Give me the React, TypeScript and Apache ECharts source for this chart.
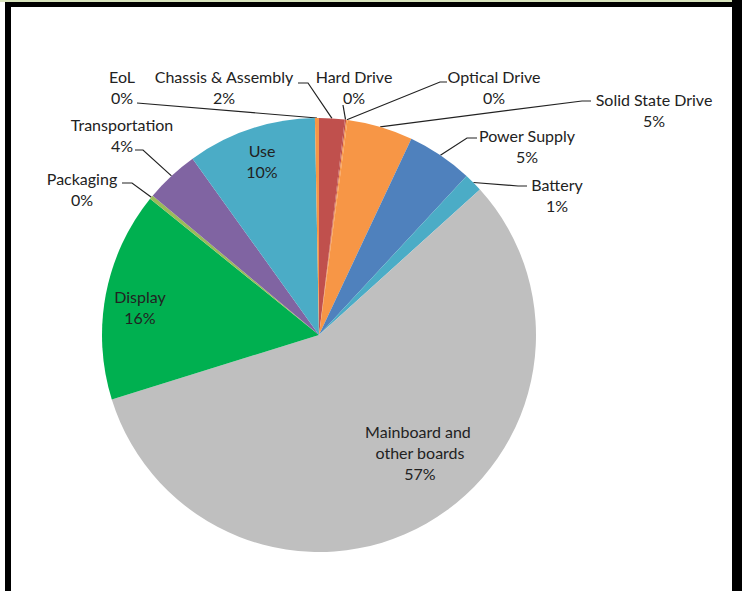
import React, { useEffect, useRef } from 'react';
import * as echarts from 'echarts';

const categories = [
  'Chassis & Assembly',
  'Hard Drive',
  'Optical Drive',
  'Solid State Drive',
  'Power Supply',
  'Battery',
  'Mainboard and other boards',
  'Display',
  'Packaging',
  'Transportation',
  'Use',
  'EoL',
];
const shares = [1.9, 0.1, 0.1, 4.9, 4.9, 1.4, 56.9, 15.6, 0.3, 4.0, 9.6, 0.3];
const colors = [
  '#C0504D', '#C0504D', '#F79646', '#F79646', '#4F81BD', '#4BACC6',
  '#BFBFBF', '#00B050', '#9BBB59', '#8064A2', '#4BACC6', '#F79646',
];
const insideLabels = ['Mainboard and other boards', 'Display', 'Use'];

// label block centres and leader knee/end points (layout, not data)
const labelCenters: [number, number][] = [
  [224, 87], [354, 87], [494, 87], [654, 110], [527, 146], [557, 195],
  [420, 452], [140, 307], [82, 189], [122, 135], [262, 161], [122, 87],
];
const leaderPoints: ([number, number][] | null)[] = [
  [[308, 83], [298, 83]],
  [[343, 105], [343, 105]],
  [[440, 82], [447, 82]],
  [[582, 101], [591, 101]],
  [[467, 138], [477, 138]],
  [[518, 186], [527, 186]],
  null,
  null,
  [[132, 183], [122, 183]],
  [[143, 150], [135, 150]],
  null,
  [[137, 103], [137, 103]],
];

const FONT = 'Lato, "Open Sans", sans-serif';

export default function App() {
  const ref = useRef<HTMLDivElement>(null);
  useEffect(() => {
    const chart = echarts.init(ref.current!, null, { renderer: 'svg' });
    chart.setOption({
      animation: false,
      backgroundColor: '#ffffff',
      graphic: [
        { type: 'rect', shape: { x: 0, y: 0, width: 732, height: 2 }, style: { fill: '#D8E4BC' } },
        { type: 'rect', shape: { x: 5, y: 2, width: 737, height: 5 }, style: { fill: '#000' } },
        { type: 'rect', shape: { x: 5, y: 2, width: 6, height: 589 }, style: { fill: '#000' } },
        { type: 'rect', shape: { x: 732, y: 0, width: 10, height: 591 }, style: { fill: '#000' } },
      ],
      series: [
        {
          type: 'pie',
          center: [319, 335],
          radius: 217,
          startAngle: 90,
          clockwise: true,
          avoidLabelOverlap: false,
          minShowLabelAngle: 0,
          itemStyle: { borderWidth: 0 },
          label: {
            show: true,
            position: 'outside',
            color: '#222222',
            fontFamily: FONT,
            fontSize: 16,
            lineHeight: 21,
            formatter: (p: any) => `${p.name}\n${Math.round(p.percent)}%`,
          },
          labelLine: {
            show: true,
            length: 10,
            length2: 10,
            lineStyle: { color: '#222222', width: 1.2 },
          },
          emphasis: { disabled: true },
          labelLayout: (params: any) => {
            const i = params.dataIndex;
            const c = labelCenters[i];
            const out: any = { x: c[0], y: c[1], align: 'center', verticalAlign: 'middle' };
            const lp = leaderPoints[i];
            if (lp && params.labelLinePoints && params.labelLinePoints.length) {
              out.labelLinePoints = [params.labelLinePoints[0], lp[0], lp[1]];
            }
            return out;
          },
          data: categories.map((name, i) => {
            const item: any = { name, value: shares[i], itemStyle: { color: colors[i] } };
            if (insideLabels.includes(name)) {
              item.label = { position: 'inside', width: 122, overflow: 'break' };
              item.labelLine = { show: false };
            }
            return item;
          }),
        },
      ],
    });
    return () => chart.dispose();
  }, []);
  return (
    <div
      ref={ref}
      style={{ position: 'fixed', left: 0, top: 0, width: 742, height: 591 }}
    />
  );
}
